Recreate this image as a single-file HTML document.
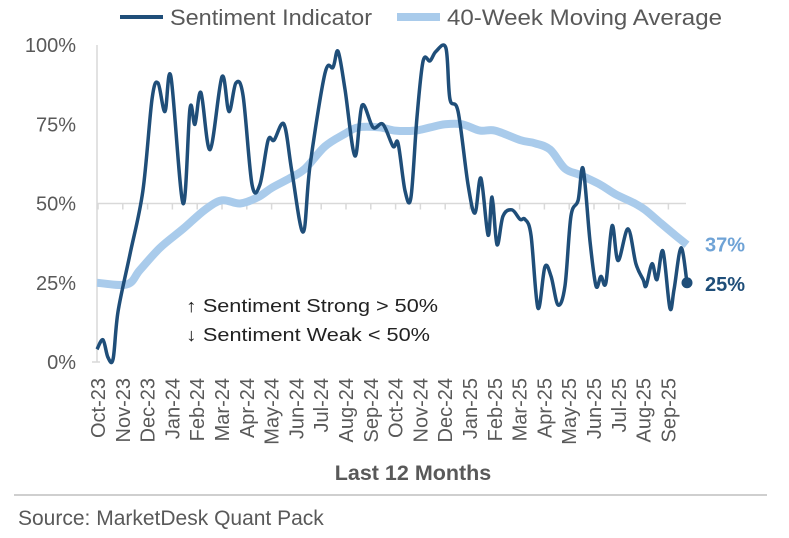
<!DOCTYPE html>
<html><head><meta charset="utf-8"><style>
body{margin:0;background:#fff;}
svg{display:block;font-family:"Liberation Sans",Arial,sans-serif;}
</style></head><body>
<svg id="chart" width="789" height="538" viewBox="0 0 789 538">
<g>
  <line x1="120" y1="17" x2="163" y2="17" stroke="#1f4e79" stroke-width="4"/>
  <text x="170" y="25" font-size="22" fill="#595959" textLength="202" lengthAdjust="spacingAndGlyphs">Sentiment Indicator</text>
  <line x1="397" y1="17" x2="440" y2="17" stroke="#a9cbeb" stroke-width="8"/>
  <text x="447" y="25" font-size="22" fill="#595959" textLength="275" lengthAdjust="spacingAndGlyphs">40-Week Moving Average</text>
</g>
<g id="axes"></g>
<g id="series"></g>
<text x="186" y="312" font-size="18" fill="#222" textLength="252" lengthAdjust="spacingAndGlyphs">↑ Sentiment Strong &gt; 50%</text>
<text x="186" y="341" font-size="18" fill="#222" textLength="244" lengthAdjust="spacingAndGlyphs">↓ Sentiment Weak &lt; 50%</text>
<text x="413" y="480" font-size="21.5" font-weight="bold" fill="#595959" text-anchor="middle">Last 12 Months</text>
<line x1="14" y1="495" x2="767" y2="495" stroke="#bfbfbf" stroke-width="1.5"/>
<text x="18" y="525" font-size="21" fill="#595959">Source: MarketDesk Quant Pack</text>
</svg>
<script>
const monthLabels=["Oct-23","Nov-23","Dec-23","Jan-24","Feb-24","Mar-24","Apr-24","May-24","Jun-24","Jul-24","Aug-24","Sep-24","Oct-24","Nov-24","Dec-24","Jan-25","Feb-25","Mar-25","Apr-25","May-25","Jun-25","Jul-25","Aug-25","Sep-25"];
const yTicks=[0,25,50,75,100];
const sentT=[0,0.24,0.44,0.65,0.85,1.33,1.85,2.22,2.46,2.74,2.98,3.47,3.75,3.95,4.19,4.56,5.04,5.32,5.6,5.89,6.25,6.57,6.9,7.14,7.54,7.86,8.31,8.59,9.19,9.52,9.72,10.0,10.4,10.69,11.13,11.53,11.94,12.14,12.42,12.66,12.9,13.15,13.43,13.67,14.07,14.23,14.56,14.96,15.24,15.48,15.77,15.93,16.13,16.37,16.73,17.06,17.26,17.5,17.78,18.06,18.31,18.59,18.87,19.11,19.4,19.6,19.88,20.12,20.32,20.52,20.77,21.01,21.41,21.73,22.02,22.14,22.38,22.58,22.82,23.1,23.27,23.55,23.79];
const sentV=[4,7,1.5,1,16,34,54,83,88,79,90,50,80,75,85,67,90,79,88,84,56,56,70,70,75,60,41,62,91,93,98,86,65,81,74,75,68,69,54,52,77,95,95,98,99,83,79,56,47,58,40,52,37,46,48,45,45,40,17,30,27,18,24,46,51,61,38,24,27,25,43,32,42,31,26,24,31,26,35,17,23,36,25];
const maT=[0,1.21,1.73,2.54,3.47,4.35,5.04,5.77,6.49,7.06,7.78,8.39,9.19,10.0,10.52,11.41,12.02,12.82,13.43,14.03,14.72,15.44,16.05,17.06,17.66,18.27,18.87,19.48,20.28,20.89,21.69,22.1,22.7,23.31,23.79];
const maV=[25,24.5,29,36,42,48,51,50,52,55,58,61,68,72,74,74,73,73,74,75,75,73,73,70,69,67,61,59,56,53,50,48,44,40,37];
const X0=97,X1=687,TMAX=23.79,Y0=362,Y1=45;
const xs=t=>X0+(t/TMAX)*(X1-X0);
const ys=v=>Y0-(v/100)*(Y0-Y1);
const NS="http://www.w3.org/2000/svg";
const axes=document.getElementById('axes'),series=document.getElementById('series');
function mk(tag,attrs,parent){const e=document.createElementNS(NS,tag);for(const k in attrs)e.setAttribute(k,attrs[k]);parent.appendChild(e);return e;}
let a=mk('line',{x1:X0,y1:Y1,x2:X0,y2:Y0,stroke:'#d9d9d9','stroke-width':1.5},axes);


let b=mk('line',{x1:X0-5,y1:Y0,x2:X0+3,y2:Y0,stroke:'#d9d9d9','stroke-width':1.5},axes);


let g=mk('line',{x1:X0,y1:ys(50),x2:X1-1,y2:ys(50),stroke:'#d9d9d9','stroke-width':1.5},axes);


yTicks.forEach(v=>{const t=mk('text',{x:76,y:ys(v)+7,'font-size':20,fill:'#595959','text-anchor':'end'},axes);t.textContent=v+'%';

});
monthLabels.forEach((m,i)=>{const x=X0+1+i*24.8;
const tk=mk('line',{x1:x,y1:ys(50),x2:x,y2:ys(50)+6,stroke:'#d9d9d9','stroke-width':1.5},axes);


const t=mk('text',{x:0,y:0,'font-size':20,fill:'#595959','text-anchor':'end',transform:`translate(${x+7},378) rotate(-90)`},axes);t.textContent=m;

});
function smooth(T,V){const p=T.map((t,i)=>[xs(t),ys(V[i])]);let d=`M${p[0][0]},${p[0][1]}`;
for(let i=0;i<p.length-1;i++){const p0=p[i-1]||p[i],p1=p[i],p2=p[i+1],p3=p[i+2]||p2;
const c1=[p1[0]+(p2[0]-p0[0])/6,p1[1]+(p2[1]-p0[1])/6],c2=[p2[0]-(p3[0]-p1[0])/6,p2[1]-(p3[1]-p1[1])/6];
d+=`C${c1[0]},${c1[1]} ${c2[0]},${c2[1]} ${p2[0]},${p2[1]}`;}return d;}
const ma=mk('path',{d:smooth(maT,maV),fill:'none',stroke:'#a9cbeb','stroke-width':8,'stroke-linejoin':'round'},series);


const se=mk('path',{d:smooth(sentT,sentV),fill:'none',stroke:'#1f4e79','stroke-width':3.5,'stroke-linejoin':'round'},series);


const lt=sentT[sentT.length-1],lv=sentV[sentV.length-1],mv=maV[maV.length-1];
const dot=mk('circle',{cx:xs(lt),cy:ys(lv),r:5.5,fill:'#1f4e79'},series);


const l1=mk('text',{x:705,y:ys(mv)+7,'font-size':20,'font-weight':'bold',fill:'#6fa3d6'},series);l1.textContent=Math.round(mv)+'%';


const l2=mk('text',{x:705,y:ys(lv)+8,'font-size':20,'font-weight':'bold',fill:'#1f4e79'},series);l2.textContent=Math.round(lv)+'%';


</script>
</body></html>
